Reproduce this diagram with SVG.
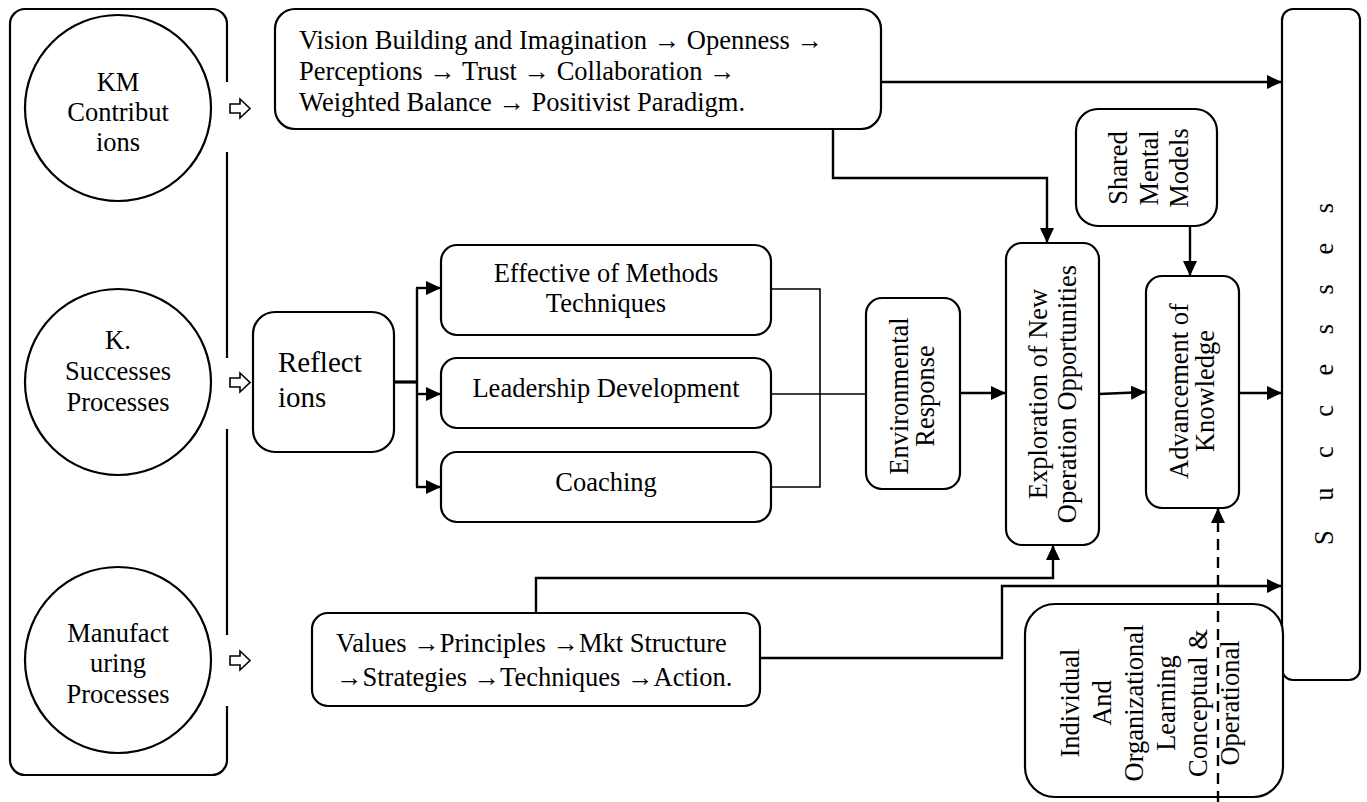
<svg xmlns="http://www.w3.org/2000/svg" width="1367" height="802" viewBox="0 0 1367 802">
<style>
.box{fill:#fff;stroke:#000;stroke-width:2.2}
.t{font-family:"Liberation Serif","Times New Roman",serif;font-size:26.5px;fill:#000}
.c{text-anchor:middle}
.ln{fill:none;stroke:#000;stroke-width:2.4}
.thin{fill:none;stroke:#000;stroke-width:1.6}
.dash{fill:none;stroke:#000;stroke-width:2.4;stroke-dasharray:11 7}
.ha{fill:#fff;stroke:#000;stroke-width:1.6;stroke-linejoin:miter}
</style>
<defs>
<marker id="ah" markerUnits="userSpaceOnUse" markerWidth="16" markerHeight="14" refX="15" refY="7" orient="auto">
<path d="M0,0 L15,7 L0,14 z" fill="#000" stroke="none"/>
</marker>
</defs>
<rect width="1367" height="802" fill="#fff"/>

<g id="left-container">
<path class="box" style="fill:none" d="M227,82 V24 A15,15 0 0 0 212,9 H25 A15,15 0 0 0 10,24 V760 A15,15 0 0 0 25,775 H212 A15,15 0 0 0 227,760 V706"/>
<path class="box" style="fill:none" d="M227,152 V358 M227,429 V635"/>
</g>

<g id="km-contributions">
<circle class="box" cx="118" cy="108" r="93"/>
<text class="t c" x="118" y="91">KM</text>
<text class="t c" x="118" y="121">Contribut</text>
<text class="t c" x="118" y="151">ions</text>
</g>
<g id="k-successes">
<circle class="box" cx="118" cy="382" r="93"/>
<text class="t c" x="118" y="349">K.</text>
<text class="t c" x="118" y="380">Successes</text>
<text class="t c" x="118" y="411">Processes</text>
</g>
<g id="manufacturing">
<circle class="box" cx="118" cy="660" r="93"/>
<text class="t c" x="118" y="642">Manufact</text>
<text class="t c" x="118" y="672">uring</text>
<text class="t c" x="118" y="703">Processes</text>
</g>

<g id="hollow-arrows">
<polygon class="ha" points="230,104 240,104 240,99 250,108.5 240,118 240,113 230,113"/>
<polygon class="ha" points="230,378 240,378 240,373 250,382.5 240,392 240,387 230,387"/>
<polygon class="ha" points="230,656 240,656 240,651 250,660.5 240,670 240,665 230,665"/>
</g>

<g id="vision-box">
<rect class="box" x="275" y="9" width="606" height="120" rx="20"/>
<text class="t" x="299" y="49">Vision Building and Imagination → Openness →</text>
<text class="t" x="299" y="80">Perceptions → Trust → Collaboration →</text>
<text class="t" x="299" y="111">Weighted Balance → Positivist Paradigm.</text>
</g>

<g id="reflections">
<rect class="box" x="253" y="312" width="141" height="140" rx="22"/>
<text class="t" style="font-size:29px" x="278" y="372">Reflect</text>
<text class="t" style="font-size:29px" x="278" y="407">ions</text>
</g>

<g id="effective">
<rect class="box" x="441" y="245" width="330" height="90" rx="16"/>
<text class="t c" x="606" y="282">Effective of Methods</text>
<text class="t c" x="606" y="312">Techniques</text>
</g>
<g id="leadership">
<rect class="box" x="441" y="358" width="330" height="70" rx="16"/>
<text class="t c" x="606" y="397">Leadership Development</text>
</g>
<g id="coaching">
<rect class="box" x="441" y="452" width="330" height="70" rx="16"/>
<text class="t c" x="606" y="491">Coaching</text>
</g>

<g id="environmental">
<rect class="box" x="866" y="298" width="94" height="191" rx="16"/>
<text class="t c" transform="translate(913,396) rotate(-90)"><tspan x="0" y="-5">Environmental</tspan><tspan x="0" y="21">Response</tspan></text>
</g>

<g id="exploration">
<rect class="box" x="1006" y="243" width="93" height="302" rx="16"/>
<text class="t c" transform="translate(1052.5,394) rotate(-90)"><tspan x="0" y="-6">Exploration of New</tspan><tspan x="0" y="23">Operation Opportunities</tspan></text>
</g>

<g id="shared-mental-models">
<rect class="box" x="1076" y="109" width="141" height="117" rx="22"/>
<text class="t c" transform="translate(1146.5,168) rotate(-90)"><tspan x="0" y="-19.5">Shared</tspan><tspan x="0" y="11.5">Mental</tspan><tspan x="0" y="41.5">Models</tspan></text>
</g>

<g id="advancement">
<rect class="box" x="1146" y="276" width="93" height="232" rx="16"/>
<text class="t c" transform="translate(1192.5,391) rotate(-90)"><tspan x="0" y="-5">Advancement of</tspan><tspan x="0" y="21">Knowledge</tspan></text>
</g>

<g id="successes">
<rect class="box" x="1282" y="9" width="78" height="671" rx="11"/>
<text class="t" transform="translate(1333,545) rotate(-90)" x="0" y="0" textLength="342" lengthAdjust="spacing">S u c c e s s e s</text>
</g>

<g id="values">
<rect class="box" x="312" y="613" width="448" height="93" rx="16"/>
<text class="t" x="336" y="652">Values →Principles →Mkt Structure</text>
<text class="t" x="336" y="686">→Strategies →Techniques →Action.</text>
</g>

<g id="individual-learning">
<rect class="box" x="1025" y="604" width="258" height="193" rx="30"/>
<text class="t c" transform="translate(1025,703) rotate(-90)"><tspan x="0" y="54">Individual</tspan><tspan x="0" y="86">And</tspan><tspan x="0" y="118">Organizational</tspan><tspan x="0" y="150">Learning</tspan><tspan x="0" y="182">Conceptual &amp;</tspan><tspan x="0" y="214">Operational</tspan></text>
</g>

<g id="connectors">
<path class="ln" d="M881,82 H1282" marker-end="url(#ah)"/>
<path class="ln" d="M833,129 V178 H1047 V243" marker-end="url(#ah)"/>
<path class="ln" d="M1190,226 V276" marker-end="url(#ah)"/>
<path class="ln" style="stroke-width:3.2" d="M394,382 H417"/>
<path class="ln" d="M417,288 V487"/>
<path class="ln" d="M416,288 H441" marker-end="url(#ah)"/>
<path class="ln" d="M416,394 H441" marker-end="url(#ah)"/>
<path class="ln" d="M416,487 H441" marker-end="url(#ah)"/>
<path class="thin" d="M771,289 H820 V487 H771"/>
<path class="thin" d="M771,394 H866"/>
<path class="ln" d="M960,393 H1006" marker-end="url(#ah)"/>
<path class="ln" d="M1099,394 L1146,392" marker-end="url(#ah)"/>
<path class="ln" d="M1239,393 H1282" marker-end="url(#ah)"/>
<path class="ln" d="M536,613 V578 H1053 V545" marker-end="url(#ah)"/>
<path class="ln" d="M760,658 H1002 V586 H1282" marker-end="url(#ah)"/>
<path class="dash" d="M1218,802 V508" marker-end="url(#ah)"/>
</g>
</svg>
